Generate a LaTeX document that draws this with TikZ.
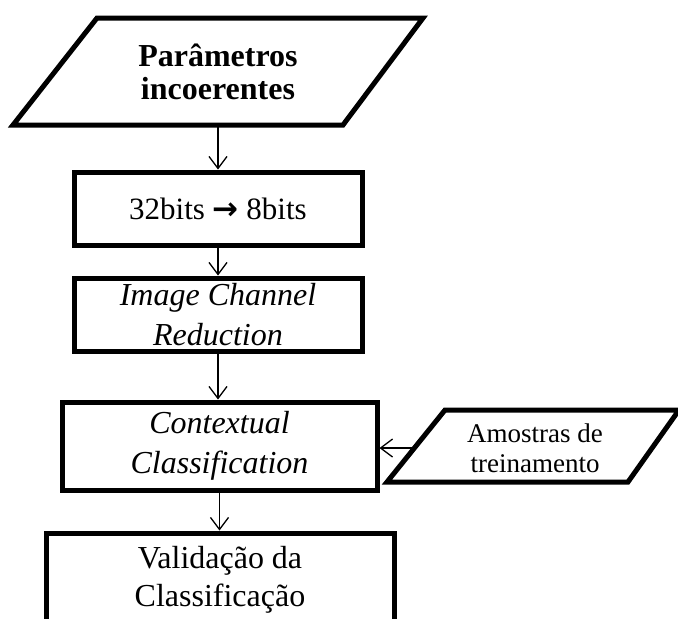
\documentclass[tikz,border=0pt]{standalone}
\usepackage{fontspec}
\setmainfont{Liberation Serif}
\newfontfamily\arrowfont{DejaVu Sans}
\usetikzlibrary{arrows.meta}
\begin{document}
\begin{tikzpicture}[x=1pt,y=-1pt,
  box/.style={draw, line width=5pt, rectangle, align=center, inner sep=0pt},
  boxfont/.style={font=\fontsize{31}{40}\selectfont},
  itfont/.style={font=\fontsize{32}{40}\selectfont\itshape},
  shapeline/.style={draw, line width=5pt, line join=miter},
  conn/.style={line width=1.3pt, -{Straight Barb[length=12pt,width=18pt]}},
  ]
\useasboundingbox (0,0) rectangle (678,619);
\clip (0,0) rectangle (678,619);

% top parallelogram
\draw[shapeline] (13,125) -- (97,18) -- (423,18) -- (343,125) -- cycle;
\node[font=\fontsize{32}{33}\selectfont\bfseries, align=center] (p1) at (218,71.5) {Parâmetros\\incoerentes};
\coordinate (p1b) at (218,125);

% boxes
\node[box, boxfont, minimum width=288pt, minimum height=73pt] (b2) at (218,208.5) {32bits {\arrowfont\bfseries →} 8bits};
\node[box, itfont, minimum width=288pt, minimum height=73pt] (b3) at (218,314.5) {Image Channel\\Reduction};
\node[box, itfont, minimum width=315pt, minimum height=88pt] (b4) at (219.5,446) {Contextual\\Classification};
\node[box, minimum width=348pt, minimum height=112pt] (b5) at (220,589) {};
\node[font=\fontsize{32}{38}\selectfont, align=center] (t5) at (220,580) {Validação da\\Classificação};

% small parallelogram
\draw[shapeline] (387,482) -- (445,410) -- (679,410) -- (628,482) -- cycle;
\node[font=\fontsize{27}{30}\selectfont, align=center] (am) at (535,448) {Amostras de\\treinamento};
\coordinate (amL) at (414,448);

% connectors
\draw[conn] (p1b) -- (p1b |- b2.north);
\draw[conn] (b2.south) -- (b2.south |- b3.north);
\draw[conn] (b3.south) -- (b3.south |- b4.north);
\draw[conn] (b4.south) -- (b4.south |- b5.north);
\draw[conn] (amL) -- (amL -| b4.east);
\end{tikzpicture}
\end{document}
